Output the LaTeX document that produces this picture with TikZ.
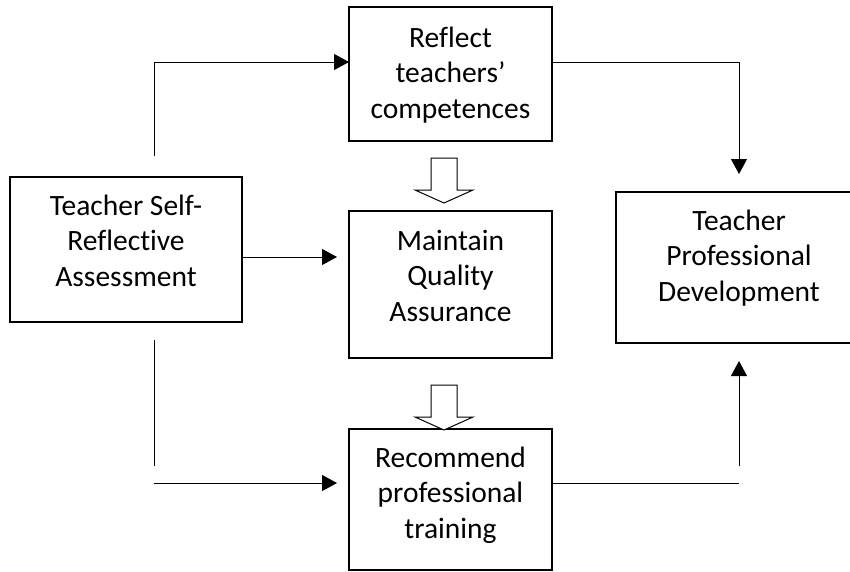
\documentclass[tikz,border=0pt]{standalone}
\usepackage{fontspec}
\setmainfont{Carlito}[Ligatures=NoCommon]
\usetikzlibrary{arrows.meta,calc}
\newcommand{\boxlines}[2]{\parbox[t]{#1}{\centering #2}}
\begin{document}
\begin{tikzpicture}[x=1pt,y=-1pt,
  box/.style={draw,line width=1.3pt,inner sep=0pt,outer sep=0pt},
  txt/.style={anchor=base,inner sep=0pt,font=\fontsize{29.5}{35.5}\selectfont},
  link/.style={line width=1pt},
  conn/.style={link,-{Triangle[length=15pt,width=16pt]}},
  hollow/.style={draw,line width=1pt,fill=white,line join=miter}]
\useasboundingbox (0,0) rectangle (850,571);

% boxes
\node[box,minimum width=232pt,minimum height=145pt] (lb) at (126,249.5) {};
\node[box,minimum width=203pt,minimum height=134pt] (tb) at (450.5,74) {};
\node[box,minimum width=203pt,minimum height=147pt] (mb) at (450.5,284.5) {};
\node[box,minimum width=203pt,minimum height=141pt] (bb) at (450.5,499.5) {};
\node[box,minimum width=246pt,minimum height=151pt] (rb) at (739,267.5) {};

% box texts (first baseline about 38pt below the top edge)
\node[txt] (lbt) at ($(lb.north)+(0,38)$) {\boxlines{228pt}{Teacher Self-\\Reflective\\Assessment}};
\node[txt] (tbt) at ($(tb.north)+(0,40)$) {\boxlines{200pt}{Reflect\\teachers’\\competences}};
\node[txt] (mbt) at ($(mb.north)+(0,39)$) {\boxlines{200pt}{Maintain\\Quality\\Assurance}};
\node[txt] (bbt) at ($(bb.north)+(0,38)$) {\boxlines{200pt}{Recommend\\professional\\training}};
\node[txt] (rbt) at ($(rb.north)+(0,38)$) {\boxlines{240pt}{Teacher\\Professional\\Development}};

% connector end points
\coordinate (a1) at (154,156);
\coordinate (b1) at (154,340);
\coordinate (b2) at (154,466);
\coordinate (b3) at (154,483);
\coordinate (c1) at (739,483);
\coordinate (c2) at (739,466);

% connectors
\draw[conn] (a1) |- ($(tb.west)+(0,-12)$);
\draw[conn,shorten >=18pt] ($(tb.east)+(0,-12)$) -| (rb.north);
\draw[conn,shorten >=12pt] (lb.east |- 0,257) -- (mb.west |- 0,257);
\draw[link] (b1) -- (b2);
\draw[conn,shorten >=12pt] (b3) -- (bb.west |- b3);
\draw[link] (bb.east |- c1) -- (c1);
\draw[conn,shorten >=18pt] (c2) -- (rb.south);

% hollow block arrows
\coordinate (h1) at (444,203);
\coordinate (h2) at (444,430);
\foreach \h in {h1,h2}
  \draw[hollow,shift={(\h)}] (-13,-45) -- (13,-45) -- (13,-13) -- (29,-13)
    -- (0,0) -- (-29,-13) -- (-13,-13) -- cycle;
\end{tikzpicture}
\end{document}
